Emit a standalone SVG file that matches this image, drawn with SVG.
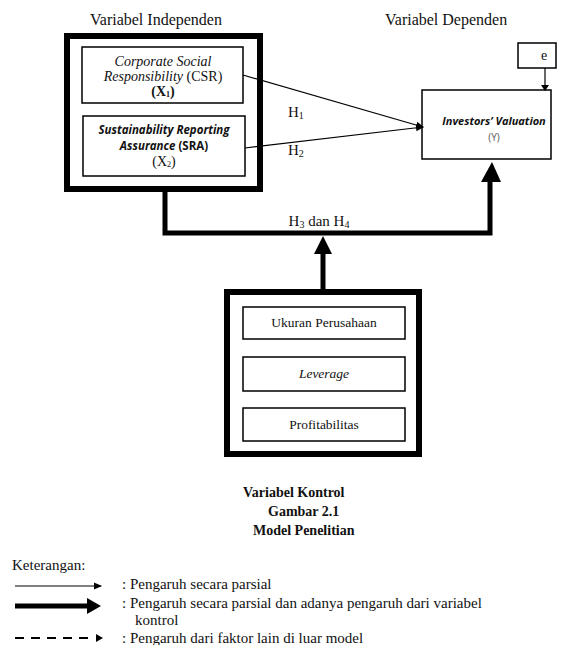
<svg xmlns="http://www.w3.org/2000/svg" width="562" height="645" viewBox="0 0 562 645">
<defs>
<style>
.t{font-family:"Liberation Serif","Times New Roman",serif;font-size:15px;fill:#111}
.ti{font-family:"Liberation Serif","Times New Roman",serif;font-size:14px;font-style:italic;fill:#111}
.s{font-family:"Open Sans","Liberation Sans",sans-serif;font-size:11.5px;font-style:italic;font-weight:bold;fill:#111}
.b{font-family:"Liberation Serif","Times New Roman",serif;font-size:14px;font-weight:bold;fill:#111}
.box{fill:#fff;stroke:#000;stroke-width:1.5}
.big{fill:#fff;stroke:#000;stroke-width:6}
.thin{stroke:#000;stroke-width:1.2;fill:none}
.thick{stroke:#000;stroke-width:5;fill:none}
</style>
<marker id="ah" markerWidth="8" markerHeight="8" refX="7" refY="4" orient="auto" markerUnits="userSpaceOnUse"><path d="M0,0.5 L8,4 L0,7.5 Z" fill="#000"/></marker>
<marker id="ah2" markerWidth="6" markerHeight="8" refX="5" refY="4" orient="auto" markerUnits="userSpaceOnUse"><path d="M0,0 L6,4 L0,8 Z" fill="#000"/></marker>
</defs>
<rect width="562" height="645" fill="#fff"/>
<text class="t" x="90" y="25" style="font-size:16px">Variabel Independen</text>
<text class="t" x="385" y="25" style="font-size:16px">Variabel Dependen</text>
<g id="independen">
<rect class="big" x="67" y="36" width="193" height="153"/>
</g>
<g id="csr">
<rect class="box" x="82" y="47" width="161" height="56"/>
<text class="ti" x="163" y="66" text-anchor="middle">Corporate Social</text>
<text class="t" x="163" y="81" text-anchor="middle" style="font-size:14px"><tspan font-style="italic">Responsibility</tspan> (CSR)</text>
<text class="b" x="163" y="96" text-anchor="middle">(X<tspan font-size="8" dy="1">1</tspan><tspan dy="-1">)</tspan></text>
</g>
<g id="sra">
<rect class="box" x="83" y="116" width="162" height="60"/>
<text class="s" x="164" y="134" text-anchor="middle">Sustainability Reporting</text>
<text class="t" x="164" y="150" text-anchor="middle"><tspan class="s">Assurance</tspan><tspan font-family="Open Sans, sans-serif" font-size="11.5" font-weight="bold"> (SRA)</tspan></text>
<text class="t" x="164" y="166" text-anchor="middle" style="font-size:14px">(X<tspan font-size="8" dy="1">2</tspan><tspan dy="-1">)</tspan></text>
</g>
<g id="y">
<rect class="box" x="422" y="90" width="129" height="69"/>
<text class="s" x="494" y="125" text-anchor="middle" style="font-size:11px">Investors’ Valuation</text>
<text x="494" y="141" text-anchor="middle" style="font-family:'Open Sans',sans-serif;font-size:10px;fill:#555">(Y)</text>
</g>
<g id="e">
<rect class="box" x="518" y="43" width="38" height="25"/>
<text x="544" y="60" text-anchor="middle" style="font-family:'Liberation Serif',serif;font-size:14px;fill:#111">e</text>
</g>
<g id="kontrol">
<rect class="big" x="227" y="292" width="192" height="162"/>
<g id="ukuran"><rect class="box" x="243" y="307" width="162" height="32"/><text class="t" x="324" y="327" text-anchor="middle" style="font-size:13.5px">Ukuran Perusahaan</text></g>
<g id="leverage"><rect class="box" x="243" y="357" width="162" height="34"/><text class="ti" x="324" y="378" text-anchor="middle" style="font-size:13.5px">Leverage</text></g>
<g id="profit"><rect class="box" x="243" y="408" width="162" height="33"/><text class="t" x="324" y="429" text-anchor="middle" style="font-size:13.5px">Profitabilitas</text></g>
</g>
<g id="connectors">
<line class="thin" x1="243" y1="75" x2="423" y2="127" marker-end="url(#ah)"/>
<line class="thin" x1="245" y1="148" x2="423" y2="127" marker-end="url(#ah)"/>
<line class="thin" x1="545" y1="68" x2="545" y2="90" marker-end="url(#ah2)"/>
<polyline class="thick" points="165,189 165,233 490,233 490,180"/>
<path d="M481,182 L492,162 L501,182 Z" fill="#000"/>
<line class="thick" x1="323" y1="289" x2="323" y2="252"/>
<path d="M314,254 L323,236 L332,254 Z" fill="#000"/>
</g>
<text class="t" x="288" y="117">H<tspan font-size="10" dy="2">1</tspan></text>
<text class="t" x="288" y="155">H<tspan font-size="10" dy="2">2</tspan></text>
<text class="t" x="319" y="226" text-anchor="middle">H<tspan font-size="10" dy="2">3</tspan><tspan dy="-2"> dan H</tspan><tspan font-size="10" dy="2">4</tspan></text>
<text class="b" x="243" y="497">Variabel Kontrol</text>
<text class="b" x="268" y="516">Gambar 2.1</text>
<text class="b" x="253" y="535">Model Penelitian</text>
<text class="t" x="12" y="570">Keterangan:</text>
<g id="legend">
<line class="thin" x1="15" y1="586" x2="101" y2="586" marker-end="url(#ah)"/>
<line x1="15" y1="606" x2="88" y2="606" stroke="#000" stroke-width="5"/>
<path d="M87,598 L101,606 L87,614 Z" fill="#000"/>
<line x1="15" y1="638" x2="90" y2="638" stroke="#000" stroke-width="2" stroke-dasharray="9,7"/>
<path d="M96,634 L103,638 L96,642 Z" fill="#000"/>
</g>
<text class="t" x="122" y="589">: Pengaruh secara parsial</text>
<text class="t" x="122" y="608">: Pengaruh secara parsial dan adanya pengaruh dari variabel</text>
<text class="t" x="135" y="625">kontrol</text>
<text class="t" x="122" y="643">: Pengaruh dari faktor lain di luar model</text>
</svg>
